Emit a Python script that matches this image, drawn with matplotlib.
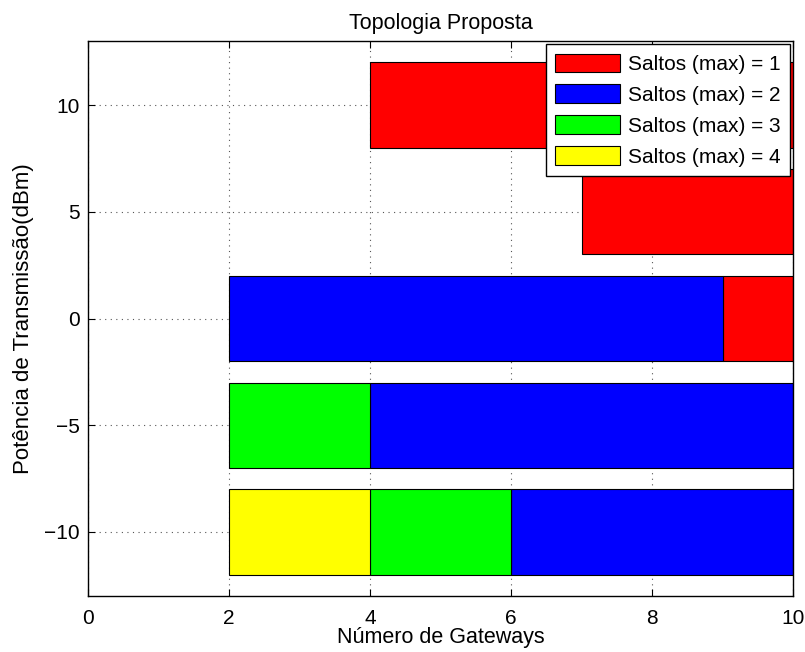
import numpy as np
import matplotlib
matplotlib.use("Agg")
import matplotlib.pyplot as plt

plt.rcParams['font.family'] = ['Liberation Sans', 'DejaVu Sans']

power = [-10, -5, 0, 5, 10]
labels = ['Saltos (max) = 1', 'Saltos (max) = 2', 'Saltos (max) = 3', 'Saltos (max) = 4']
colors = ['#ff0000', '#0000ff', '#00ff00', '#ffff00']

# start / end of each segment (number of gateways) per power level; nan = none
hop1_start = [np.nan, np.nan, 9, 7, 4]
hop1_end = [np.nan, np.nan, 10, 10, 10]
hop2_start = [6, 4, 2, np.nan, np.nan]
hop2_end = [10, 10, 9, np.nan, np.nan]
hop3_start = [4, 2, np.nan, np.nan, np.nan]
hop3_end = [6, 4, np.nan, np.nan, np.nan]
hop4_start = [2, np.nan, np.nan, np.nan, np.nan]
hop4_end = [4, np.nan, np.nan, np.nan, np.nan]

starts = [hop1_start, hop2_start, hop3_start, hop4_start]
ends = [hop1_end, hop2_end, hop3_end, hop4_end]

FS = 15

fig = plt.figure(figsize=(8.05, 6.52), dpi=100)
ax = fig.add_axes([88/805, 1-596/652, (793-88)/805, (596-41)/652])

for s, e, c, lab in zip(starts, ends, colors, labels):
    s = np.array(s, float)
    e = np.array(e, float)
    m = ~np.isnan(s)
    p = np.array(power)[m]
    ax.barh(p, e[m] - s[m], left=s[m], height=4, color=c, edgecolor='black',
            linewidth=0.8, label=lab, zorder=2)

ax.set_xlim(0, 10)
ax.set_ylim(-13, 13)
ax.set_xticks([0, 2, 4, 6, 8, 10])
ax.set_yticks([-10, -5, 0, 5, 10])
ax.set_yticklabels(['\u221210', '\u22125', '0', '5', '10'])
ax.grid(True, linestyle=(0, (1, 4)), color='#555555', linewidth=0.8, zorder=0)
ax.set_axisbelow(True)
ax.tick_params(direction='in', length=5, labelsize=FS, top=True, right=True)
ax.tick_params(axis='x', pad=9)
ax.tick_params(axis='y', pad=6)
for sp in ax.spines.values():
    sp.set_linewidth(1.0)
    sp.set_zorder(3)

ax.set_title('Topologia Proposta', fontsize=15.5, pad=9)
ax.set_xlabel('Número de Gateways', fontsize=15.5, labelpad=0)
ax.set_ylabel('Potência de Transmissão(dBm)', fontsize=16, labelpad=7)

leg = ax.legend(loc='upper right', fontsize=FS, frameon=True, fancybox=False,
                edgecolor='black', framealpha=1, borderaxespad=0.15,
                handlelength=3.1, handleheight=1.0, labelspacing=0.5,
                handletextpad=0.4, borderpad=0.45)
leg.get_frame().set_linewidth(1.0)
leg.set_zorder(5)

fig.savefig('out.png', dpi=100)
